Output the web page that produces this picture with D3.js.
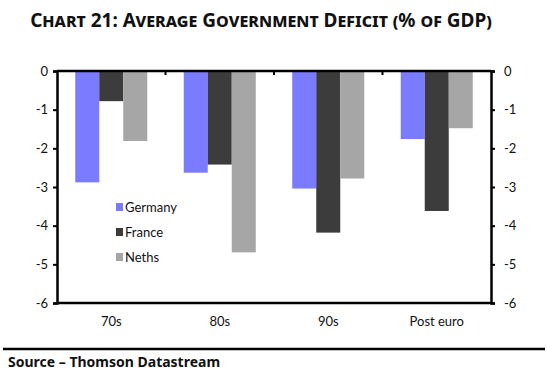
<!DOCTYPE html>
<html>
<head>
<meta charset="utf-8">
<script src="https://cdn.jsdelivr.net/npm/d3@7"></script>
<style>
  body { margin: 0; background: #fff; }
  text { font-family: "Lato", "Noto Sans", sans-serif; fill: #111; }
</style>
</head>
<body>
<script>
var categories = ["70s", "80s", "90s", "Post euro"];
var seriesNames = ["Germany", "France", "Neths"];
var germany = [-2.88, -2.63, -3.04, -1.76];
var france = [-0.78, -2.42, -4.18, -3.62];
var neths = [-1.81, -4.69, -2.78, -1.48];
var yTicks = [0, -1, -2, -3, -4, -5, -6];
var colors = ["#7b7bff", "#3c3c3c", "#a6a6a6"];

var w = 547, h = 375;
var margin = {top: 71, bottom: 72, left: 57, right: 56};

var svg = d3.select("body").append("svg")
  .attr("width", w)
  .attr("height", h);

var x = d3.scaleBand()
  .domain(categories)
  .range([margin.left, w - margin.right]);

var x1 = d3.scaleBand()
  .domain(seriesNames)
  .range([0, x.bandwidth()])
  .paddingOuter(0.76)
  .paddingInner(0);

var y = d3.scaleLinear()
  .domain([0, -6])
  .range([margin.top, h - margin.bottom]);

var series = [germany, france, neths];

// title
svg.append("text")
  .attr("x", 261)
  .attr("y", 27)
  .attr("text-anchor", "middle")
  .style("font-family", "'Noto Sans', sans-serif")
  .style("font-weight", "bold")
  .style("font-variant", "small-caps")
  .style("font-size", "19px")
  .text("Chart 21: Average Government Deficit (% of GDP)");

// bars
seriesNames.forEach(function(s, si) {
  svg.selectAll(".bar-" + si)
    .data(series[si])
    .enter()
    .append("rect")
    .attr("class", "bar-" + si)
    .attr("x", function(d, i) { return x(categories[i]) + x1(s); })
    .attr("width", x1.bandwidth())
    .attr("y", y(0))
    .attr("height", function(d) { return y(d) - y(0); })
    .attr("fill", colors[si]);
});

// axes, labels use plain hyphen like the original
var fmt = function(d) { return String(d); };

var yAxisL = d3.axisLeft(y).tickValues(yTicks).tickFormat(fmt).tickSize(4).tickPadding(5);
var gl = svg.append("g")
  .attr("transform", "translate(" + margin.left + ",0)")
  .call(yAxisL);

var yAxisR = d3.axisRight(y).tickValues(yTicks).tickFormat(fmt).tickSize(4).tickPadding(9);
var gr = svg.append("g")
  .attr("transform", "translate(" + (w - margin.right) + ",0)")
  .call(yAxisR);

[gl, gr].forEach(function(g) {
  g.select(".domain").attr("stroke", "#000").attr("stroke-width", 2.5);
  g.selectAll(".tick line").attr("stroke", "#000").attr("stroke-width", 2);
  g.selectAll(".tick text")
    .style("font-size", "13px")
    .attr("fill", "#222")
    .style("font-family", "Lato, sans-serif");
});

// bottom axis
svg.append("line")
  .attr("x1", margin.left).attr("x2", w - margin.right)
  .attr("y1", y(-6)).attr("y2", y(-6))
  .attr("stroke", "#000").attr("stroke-width", 2.5);

// zero line
svg.append("line")
  .attr("x1", margin.left).attr("x2", w - margin.right)
  .attr("y1", y(0)).attr("y2", y(0))
  .attr("stroke", "#000").attr("stroke-width", 2.5);

// category ticks on the zero line
svg.selectAll(".cat-tick")
  .data(categories.slice(1))
  .enter()
  .append("line")
  .attr("x1", function(d) { return x(d); })
  .attr("x2", function(d) { return x(d); })
  .attr("y1", y(0)).attr("y2", y(0) + 4)
  .attr("stroke", "#000").attr("stroke-width", 2);

// category labels
svg.selectAll(".cat-label")
  .data(categories)
  .enter()
  .append("text")
  .attr("x", function(d) { return x(d) + x.bandwidth() / 2; })
  .attr("y", y(-6) + 23)
  .attr("text-anchor", "middle")
  .style("font-size", "13px")
  .attr("fill", "#222")
  .text(function(d) { return d; });

// legend
var legend = svg.selectAll(".legend")
  .data(seriesNames)
  .enter()
  .append("g")
  .attr("transform", function(d, i) { return "translate(116," + (207 + i * 25) + ")"; });

legend.append("rect")
  .attr("x", 0).attr("y", -4)
  .attr("width", 7).attr("height", 8)
  .attr("fill", function(d, i) { return colors[i]; });

legend.append("text")
  .attr("x", 9)
  .attr("y", 5)
  .style("font-size", "13px")
  .attr("fill", "#222")
  .text(function(d) { return d; });

// source
svg.append("line")
  .attr("x1", 3).attr("x2", 545)
  .attr("y1", 349).attr("y2", 349)
  .attr("stroke", "#000").attr("stroke-width", 2.5);

svg.append("text")
  .attr("x", 8)
  .attr("y", 367)
  .style("font-family", "'Noto Sans', sans-serif")
  .style("font-weight", "bold")
  .style("font-size", "14px")
  .text("Source \u2013 Thomson Datastream");
</script>
</body>
</html>
